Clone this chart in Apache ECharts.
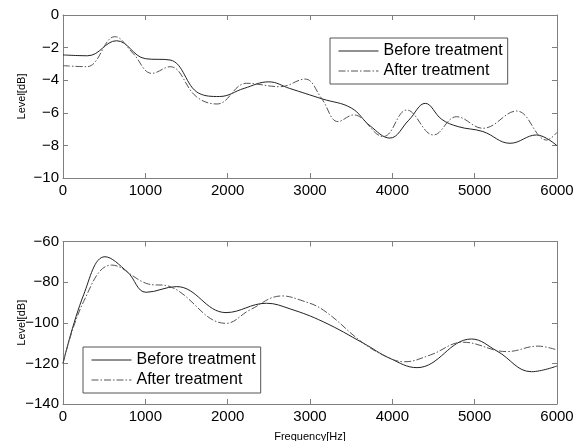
<!DOCTYPE html>
<html><head><meta charset="utf-8">
<script src="https://cdn.jsdelivr.net/npm/echarts@6/dist/echarts.min.js"></script>
<style>html,body{margin:0;padding:0;background:#fff}#c{width:583px;height:441px}</style>
</head><body><div id="c"></div>
<script>
const seriesNames = ['Before treatment', 'After treatment'];
const xTicks = [0, 1000, 2000, 3000, 4000, 5000, 6000];
const topYTicks = [-10, -8, -6, -4, -2, 0];
const bottomYTicks = [-140, -120, -100, -80, -60];

const topBeforeFreq  = [0, 300, 650, 1000, 1300, 1650, 1900, 2200, 2500, 2750, 3150, 3500, 3730, 3970, 4200, 4400, 4600, 4800, 5100, 5430, 5750, 6000];
const topBeforeLevel = [-2.45, -2.5, -1.58, -2.68, -2.76, -4.8, -5.0, -4.5, -4.1, -4.5, -5.15, -5.7, -6.8, -7.55, -6.45, -5.42, -6.4, -6.85, -7.15, -7.87, -7.36, -8.02];
const topAfterFreq   = [0, 290, 630, 850, 1080, 1300, 1620, 1870, 2230, 2640, 2940, 3140, 3340, 3530, 3890, 4175, 4500, 4780, 5100, 5510, 5875, 6000];
const topAfterLevel  = [-3.11, -3.17, -1.33, -2.35, -3.58, -3.17, -5.01, -5.46, -4.19, -4.4, -3.93, -5.11, -6.54, -6.13, -7.46, -5.83, -7.36, -6.24, -6.95, -5.89, -7.67, -7.2];

const botBeforeFreq  = [0, 250, 510, 780, 1010, 1380, 1980, 2470, 2760, 3160, 3650, 3970, 4300, 4960, 5270, 5690, 6000];
const botBeforeLevel = [-120, -86.3, -67.5, -74.9, -85.0, -82.2, -95.0, -90.4, -93.2, -99.5, -110.1, -117.5, -122.1, -108.0, -113.9, -124.1, -121.3];
const botAfterFreq   = [0, 250, 590, 1010, 1300, 1980, 2270, 2660, 2880, 3160, 3650, 3970, 4150, 4460, 4860, 5390, 5770, 6000];
const botAfterLevel  = [-120, -89.6, -71.6, -80.6, -82.2, -100.3, -93.7, -86.8, -88.8, -93.7, -110.1, -117.5, -119.2, -115.9, -109.6, -114.2, -111.5, -113.4];

const zip = (a, b) => a.map((x, i) => [x, b[i]]);
const FONT = 'Liberation Sans, Arial, sans-serif';
const AX = '#7f7f7f';
const minus = v => String(v).replace('-', '\u2212');

function xAx(gi, pos, showLabel, name) {
  return {
    type: 'value', gridIndex: gi, position: pos,
    min: xTicks[0], max: xTicks[xTicks.length - 1], interval: 1000,
    axisLine: { show: true, onZero: false, lineStyle: { color: AX, width: 1 } },
    axisTick: { show: true, inside: true, length: 5, lineStyle: { color: AX } },
    axisLabel: { show: showLabel, color: '#000', fontSize: 15, fontFamily: FONT, margin: 5, formatter: minus },
    splitLine: { show: false },
    name: name || '', nameLocation: 'middle', nameGap: 27, nameMoveOverlap: false,
    nameTextStyle: { color: '#000', fontSize: 11, fontFamily: FONT }
  };
}
function yAx(gi, pos, ticks, showLabel, name) {
  return {
    type: 'value', gridIndex: gi, position: pos,
    min: ticks[0], max: ticks[ticks.length - 1], interval: ticks[1] - ticks[0],
    axisLine: { show: true, onZero: false, lineStyle: { color: AX, width: 1 } },
    axisTick: { show: true, inside: true, length: 5, lineStyle: { color: AX } },
    axisLabel: { show: showLabel, color: '#000', fontSize: 15, fontFamily: FONT, margin: 4, formatter: minus },
    splitLine: { show: false },
    name: name || '', nameLocation: 'middle', nameGap: 36, nameRotate: 90, nameMoveOverlap: false,
    nameTextStyle: { color: '#000', fontSize: 11, fontFamily: FONT }
  };
}
function line(name, data, xi, yi, dash) {
  const c = dash ? '#555' : '#222';
  return {
    name, type: 'line', data, xAxisIndex: xi, yAxisIndex: yi,
    smooth: 0.4, symbol: 'none', silent: true, color: c,
    itemStyle: { color: c },
    lineStyle: dash ? { color: c, width: 1, type: [7, 2, 1.5, 2] } : { color: c, width: 1 }
  };
}
function legend(gi, left, top) {
  return {
    show: true, orient: 'vertical', left, top,
    data: seriesNames.map(n => ({ name: n })),
    backgroundColor: '#fff', borderColor: '#555', borderWidth: 1,
    padding: [5, 5, 5, 8], itemWidth: 40, itemHeight: 14, itemGap: 4,
    itemStyle: { opacity: 0, borderWidth: 0 },
    lineStyle: { width: 1 },
    textStyle: { fontSize: 16, fontFamily: FONT, color: '#000' },
    selectedMode: false
  };
}

const chart = echarts.init(document.getElementById('c'), null, { renderer: 'canvas' });
chart.setOption({
  animation: false,
  backgroundColor: '#fff',
  grid: [
    { left: 63, top: 15, width: 494, height: 163, show: false, containLabel: false, outerBoundsMode: 'none' },
    { left: 63, top: 241.5, width: 494, height: 162.5, show: false, containLabel: false, outerBoundsMode: 'none' }
  ],
  xAxis: [xAx(0, 'bottom', true), xAx(0, 'top', false), xAx(1, 'bottom', true, 'Frequency[Hz]'), xAx(1, 'top', false)],
  yAxis: [yAx(0, 'left', topYTicks, true, 'Level[dB]'), yAx(0, 'right', topYTicks, false),
          yAx(1, 'left', bottomYTicks, true, 'Level[dB]'), yAx(1, 'right', bottomYTicks, false)],
  legend: [legend(0, 330, 38), legend(1, 83, 347)],
  series: [
    line(seriesNames[0], zip(topBeforeFreq, topBeforeLevel), 0, 0, false),
    line(seriesNames[1], zip(topAfterFreq, topAfterLevel), 0, 0, true),
    line(seriesNames[0], zip(botBeforeFreq, botBeforeLevel), 2, 2, false),
    line(seriesNames[1], zip(botAfterFreq, botAfterLevel), 2, 2, true)
  ]
});
</script></body></html>
